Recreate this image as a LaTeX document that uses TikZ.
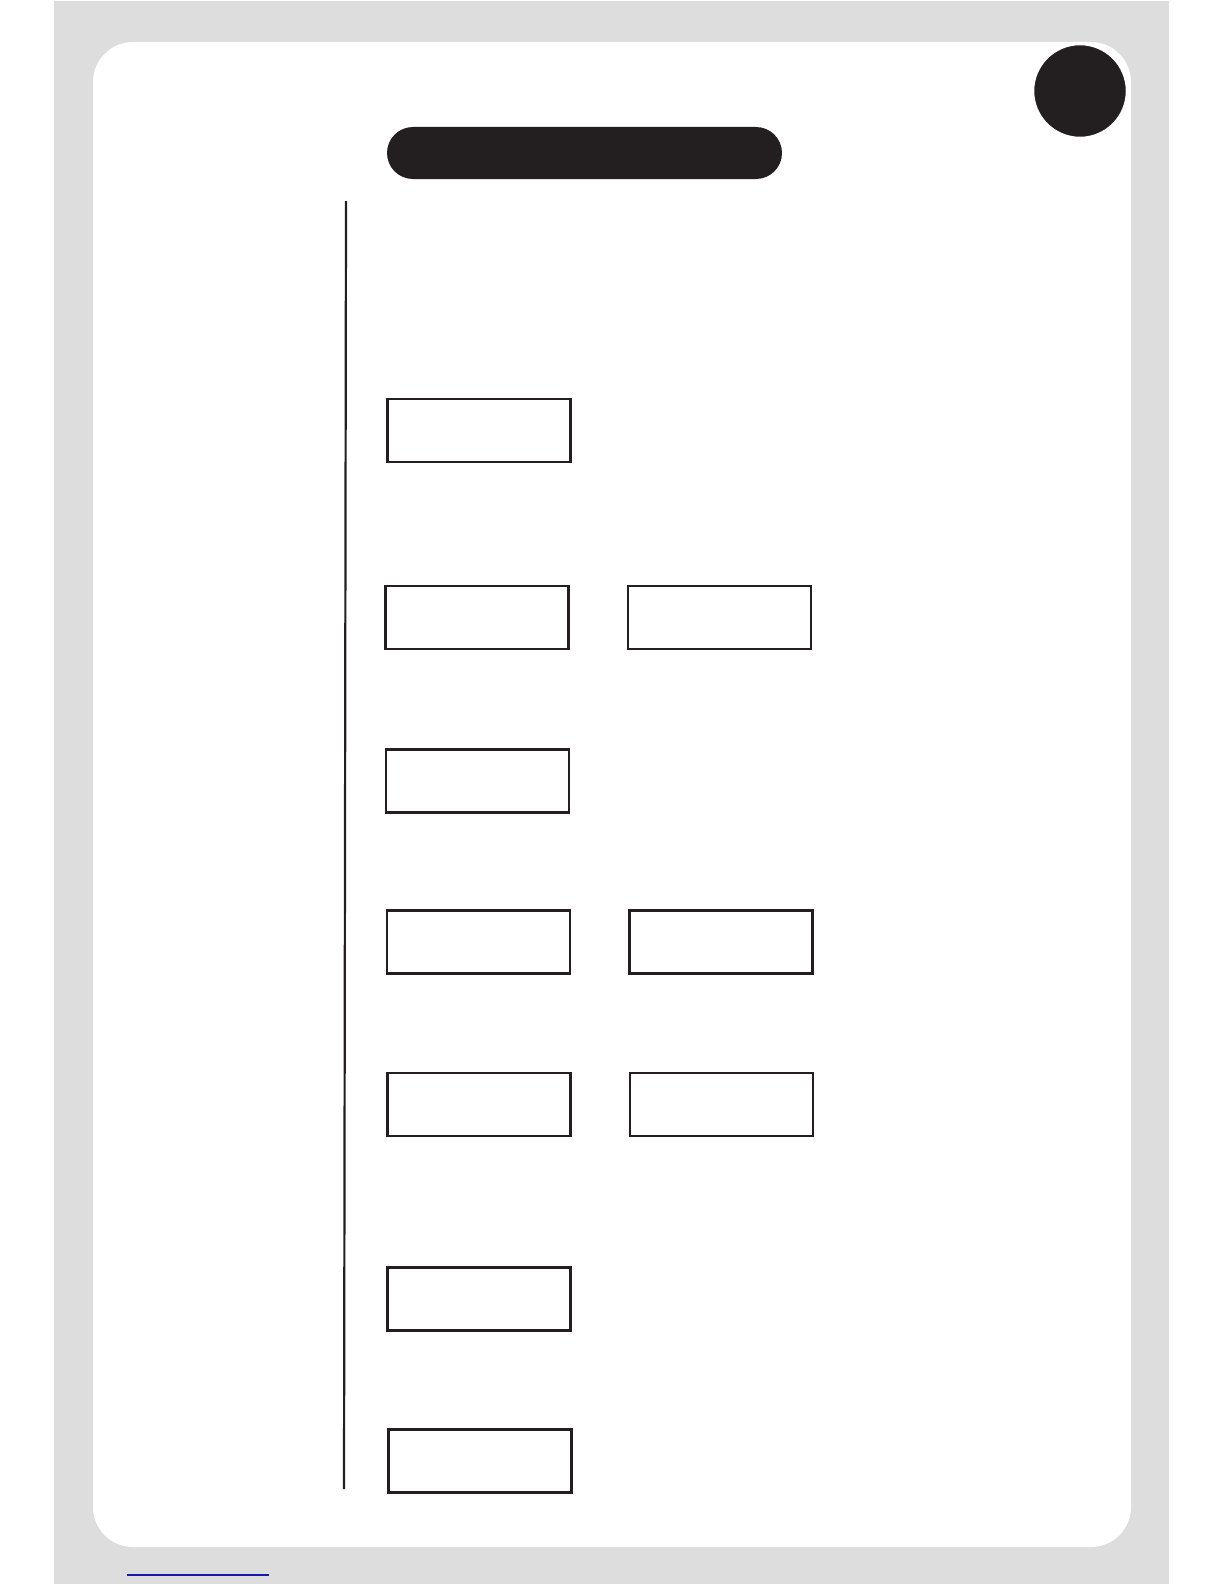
\documentclass[tikz,border=0pt]{standalone}
\usetikzlibrary{positioning}
\definecolor{pagegrey}{HTML}{DDDDDD}
\definecolor{inkblack}{HTML}{231F20}
\definecolor{linkblue}{HTML}{1A1AA8}
\begin{document}
\begin{tikzpicture}[
    x=1pt, y=-1pt,
    node distance=57pt,
    box/.style={draw=inkblack, line width=2.6pt, minimum width=183pt, minimum height=63pt, inner sep=0pt},
    badge/.style={fill=inkblack, inner sep=0pt}
]
\useasboundingbox (0,0) rectangle (1224,1584);
% page
\fill[pagegrey] (54,1) rectangle (1169,1584);
\fill[white, rounded corners=40pt] (93,42) rectangle (1131,1547);
\draw[linkblue, line width=1.3pt] (127,1575) -- (269,1575);
% heading
\node[badge, circle, minimum size=93pt, draw=white, line width=1.5pt] (pageno) at (1080,91) {};
\node[badge, rounded corners=26pt, minimum width=395pt, minimum height=52pt] (title) at (584.5,153) {};
\draw[inkblack, line width=2.2pt] (346,201) -- (344,1489);
% boxes
\node[box] (first) at (479,430.5) {};
\node[box] (secondL) at (477,617.5) {};
\node[box, right=of secondL] (secondR) {};
\node[box] (third) at (477.5,781) {};
\node[box] (fourthL) at (478.5,942) {};
\node[box, right=of fourthL] (fourthR) {};
\node[box] (fifthL) at (479,1104.5) {};
\node[box, right=of fifthL] (fifthR) {};
\node[box] (sixth) at (479,1299) {};
\node[box] (seventh) at (480,1461) {};
\end{tikzpicture}
\end{document}
